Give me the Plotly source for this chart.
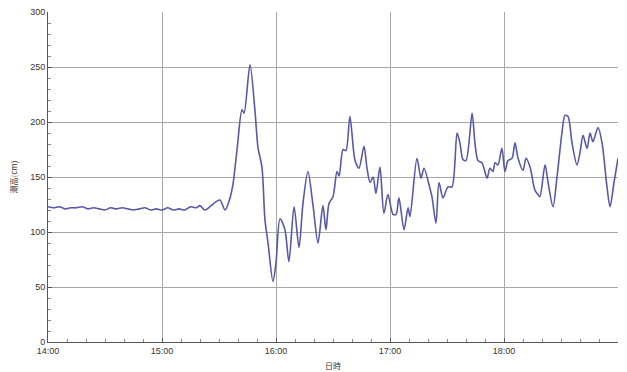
import pandas as pd
import plotly.graph_objects as go

# minutes after 14:00 and tide height (cm)
flat_minutes = [0, 3, 6, 9, 12, 15, 18, 21, 24, 27, 30, 33, 36, 39, 42, 45, 48, 51, 54,
                57, 60, 63, 66, 69, 72, 75, 78]
flat_values = [123, 122, 123, 121, 122, 122, 123, 121, 122, 121, 120, 122, 121, 122,
               121, 120, 121, 122, 120, 121, 120, 122, 120, 121, 120, 123, 122]

main_minutes = [80.0, 82.5, 85.3, 88.0, 90.5, 93.2, 95.8, 97.4, 99.5, 102.1, 103.2, 106.3,
                108.9, 110.5, 112.6, 114.2, 115.8, 118.4, 120.0, 122.1, 124.7, 126.8,
                129.5, 132.1, 134.2, 136.8, 139.5, 142.1, 144.7, 146.3, 147.9, 150.0,
                152.1, 153.2, 155.3, 156.8, 158.9, 161.6, 163.7, 166.3, 167.9, 169.5,
                171.1, 172.6, 174.7, 176.8, 178.9, 181.6, 183.2, 184.7, 187.4, 189.5,
                190.5, 194.2, 196.3, 197.9, 201.1, 202.1, 204.2, 205.8, 207.9, 210.5,
                212.6, 215.3, 216.8, 218.4, 220.0, 223.2, 224.7, 226.3, 228.4, 231.1,
                232.6, 234.2, 235.3, 236.8, 238.9, 240.5, 242.1, 244.2, 245.8, 247.4,
                250.0, 251.6, 253.7, 256.3, 257.9, 258.9, 261.6, 263.2, 265.8, 267.9,
                270.5, 272.1, 273.7, 275.8, 278.4, 280.0, 281.6, 283.7, 285.3, 286.8,
                289.5, 291.6, 294.2, 295.8, 297.9, 300.0]
main_values = [124, 120, 123, 127, 129, 120, 131, 144, 175, 211, 208, 252,
               211, 177, 159, 111, 90, 55, 72, 112, 102, 73,
               123, 86, 126, 155, 124, 90, 124, 102, 126, 132,
               155, 151, 175, 174, 205, 165, 158, 178, 158, 145,
               150, 135, 159, 117, 134, 116, 116, 131, 102, 122,
               114, 167, 149, 158, 139, 132, 108, 145, 131, 141,
               141, 190, 181, 166, 165, 208, 181, 165, 163, 149,
               158, 155, 163, 161, 176, 155, 165, 167, 181, 167,
               156, 167, 159, 138, 134, 132, 161, 145, 123, 150,
               190, 206, 205, 181, 161, 172, 188, 176, 190, 182,
               195, 181, 141, 123, 145, 167]

minutes = flat_minutes + main_minutes
values = flat_values + main_values

start = pd.Timestamp("2020-01-01 14:00:00")
times = [start + pd.Timedelta(minutes=m) for m in minutes]

tick_vals = [start + pd.Timedelta(hours=h) for h in range(5)]
tick_text = ["14:00", "15:00", "16:00", "17:00", "18:00"]

fig = go.Figure()
fig.add_trace(go.Scatter(
    x=times, y=values, mode="lines",
    line=dict(color="#5858a8", width=1.6, shape="spline", smoothing=0.8),
    hoverinfo="skip", showlegend=False,
))

font_family = "Liberation Sans, Arial, sans-serif"
# page body has an 8px default margin, so the figure is sized/offset to compensate
fig.update_layout(
    width=619, height=364,
    margin=dict(l=40, r=9, t=4, b=30),
    paper_bgcolor="white", plot_bgcolor="white",
    font=dict(family=font_family, size=9, color="#333333"),
    xaxis=dict(
        range=[start, start + pd.Timedelta(hours=5)],
        automargin=False, ticklabeloverflow="allow",
        tickmode="array", tickvals=tick_vals, ticktext=tick_text,
        showgrid=True, gridcolor="#a8a8a8", gridwidth=1,
        showline=True, linecolor="#555555", linewidth=1,
        ticks="inside", ticklen=4, tickcolor="#555555",
        minor=dict(dtick=600000, ticks="inside", ticklen=3, tickcolor="#888888", showgrid=False),
        tickfont=dict(size=9, color="#333333"),
        title=dict(text="日時", font=dict(family="Noto Sans CJK JP", size=8, color="#333333"), standoff=8),
        zeroline=False,
    ),
    yaxis=dict(
        range=[0, 300], tickvals=[0, 50, 100, 150, 200, 250, 300],
        automargin=False, ticklabeloverflow="allow",
        showgrid=True, gridcolor="#a8a8a8", gridwidth=1,
        showline=True, linecolor="#555555", linewidth=1,
        ticks="inside", ticklen=4, tickcolor="#555555",
        minor=dict(dtick=10, ticks="inside", ticklen=3, tickcolor="#888888", showgrid=False),
        tickfont=dict(size=9, color="#333333"),
        title=dict(text="潮高(cm)", font=dict(family="Noto Sans CJK JP", size=8, color="#333333"), standoff=12),
        zeroline=False,
    ),
)

fig.write_html("out.html")
